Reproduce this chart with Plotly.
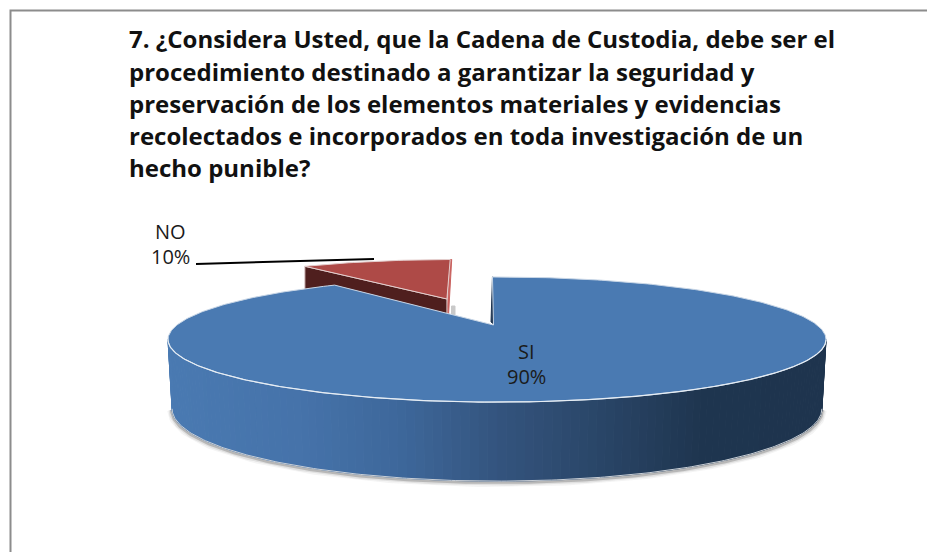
import numpy as np
import plotly.graph_objects as go

# Data
labels = ["SI", "NO"]
values = [90, 10]

title_lines = [
    "7. ¿Considera Usted, que la Cadena de Custodia, debe ser el",
    "procedimiento destinado a garantizar la seguridad y",
    "preservación de los elementos materiales y evidencias",
    "recolectados e incorporados en toda investigación de un",
    "hecho punible?",
]

# Perspective pie, in page pixels
CX, CY = 497, 325
RX, RY = 320, 59.2
K = 0.2325
ROT = -1
BASE_CY, BASE_RX, BASE_RY = 392, 316, 68.4

BLUE = "#4A7AB2"
RED = "#AE4A47"
RED_DARK = "#4F1F1E"
NAVY = "#1E3450"


def project(u, v, cx=CX, cy=CY, rx=RX, ry=RY):
    s = 1 / (1 + K * v)
    return cx + rx * u * s, cy - ry * v * s


def rad(a):
    return np.radians(np.asarray(a, dtype=float))


def poly(fig, x, y, color, line=None, width=1):
    fig.add_trace(go.Scatter(
        x=np.append(x, x[0]), y=np.append(y, y[0]), mode="lines", fill="toself",
        fillcolor=color, line=dict(color=line or color, width=width),
        hoverinfo="skip", showlegend=False
    ))


# slice angles come from the values
total = sum(values)
si_sweep = 360 * values[0] / total
no_sweep = 360 * values[1] / total
si_start = ROT
si_end = ROT + si_sweep
no_start = si_end
no_end = no_start + no_sweep

fig = go.Figure()

# frame
fig.add_trace(go.Scatter(
    x=[10.5, 10.5, 927], y=[552, 10.5, 10.5], mode="lines",
    line=dict(color="#8C8C8C", width=2), hoverinfo="skip", showlegend=False
))

# front arc angles, extreme to extreme
edge = 180 - np.degrees(np.arccos(K))
front = rad(np.linspace(edge, 360 - edge, 241))
fu, fv = np.sin(front), np.cos(front)
tx, ty = project(fu, fv)
bx, by = project(fu, fv, cy=BASE_CY, rx=BASE_RX, ry=BASE_RY)

# soft shadow under the wall
for w, alpha, dy in [(10, 0.06, 1), (7, 0.10, 1), (4, 0.25, 1)]:
    fig.add_trace(go.Scatter(
        x=bx, y=by + dy, mode="lines", line=dict(color=f"rgba(60,60,60,{alpha})", width=w),
        hoverinfo="skip", showlegend=False
    ))

# NO slice, pulled out towards the back
NO_CX = 490
apex_u, apex_v = -0.15, 0.49
arc = rad(np.linspace(no_start, no_end, 30))
nu, nv = apex_u + np.sin(arc), apex_v + np.cos(arc)
nx, ny = project(nu, nv, cx=NO_CX)
ax, ay = project(apex_u, apex_v, cx=NO_CX)

# thin lit side and its shadow
poly(fig, np.array([451.5, 455, 455, 451.5]), np.array([306, 306, 316, 316]), "#C9C9C9")
poly(fig, np.array([nx[-1], nx[-1] + 1.5, ax + 1.5, ax]), np.array([ny[-1], ny[-1], ay + 18, ay + 18]), "#C9615E")
# dark cut face
poly(fig, np.array([nx[0], ax, ax, nx[0]]), np.array([ny[0], ay, ay + 30, ny[0] + 30]), RED_DARK, line="#D8C4C4")
# top face
poly(fig, np.append(nx, ax), np.append(ny, ay), RED, line="#E4CFCE")

# SI wall, as narrow strips for the horizontal shading
stops_x = [170, 300, 400, 500, 600, 700, 826]
stops_r = [74, 70, 62, 52, 42, 31, 30]
stops_g = [122, 115, 104, 84, 70, 54, 52]
stops_b = [178, 170, 155, 126, 104, 80, 78]
step = 2
for i in range(0, len(front) - step, step):
    xm = (tx[i] + tx[i + step]) / 2
    c = "rgb(%d,%d,%d)" % (
        np.interp(xm, stops_x, stops_r), np.interp(xm, stops_x, stops_g), np.interp(xm, stops_x, stops_b)
    )
    poly(fig, np.array([tx[i], tx[i + step], bx[i + step], bx[i]]),
         np.array([ty[i], ty[i + step], by[i + step], by[i]]), c)

# dark inner sliver at the 12 o'clock cut
SI_APEX = (493.5, 325)
sx0, sy0 = project(np.sin(rad(si_start)), np.cos(rad(si_start)))
poly(fig, np.array([sx0, sx0 + 0.5, SI_APEX[0] + 1.5, SI_APEX[0] - 2.5]),
     np.array([sy0, sy0, SI_APEX[1], SI_APEX[1] - 3]), NAVY)

# SI top face
sweep = rad(np.linspace(si_start, si_end, 361))
sx, sy = project(np.sin(sweep), np.cos(sweep))
poly(fig, np.append(sx, SI_APEX[0]), np.append(sy, SI_APEX[1]), BLUE, line="#C8D6E6")

# brighter rim along the front of the top face, and bottom rim highlight
fig.add_trace(go.Scatter(
    x=tx, y=ty, mode="lines", line=dict(color="#E6EDF4", width=1.2),
    hoverinfo="skip", showlegend=False
))
fig.add_trace(go.Scatter(
    x=bx, y=by, mode="lines", line=dict(color="#C9CFD6", width=1),
    hoverinfo="skip", showlegend=False
))

# NO leader line
fig.add_trace(go.Scatter(
    x=[196, 374], y=[264, 259], mode="lines", line=dict(color="black", width=2),
    hoverinfo="skip", showlegend=False
))

annotations = []
title_y = [38, 71, 103, 135, 167]
for line, y in zip(title_lines, title_y):
    annotations.append(dict(
        x=127, y=y, text=f"<b>{line}</b>", xanchor="left", yanchor="middle", showarrow=False,
        xref="x", yref="y", font=dict(family="Open Sans", size=24, color="#111111")
    ))

label_pos = [(526, 351, 526, 376), (170, 231, 170, 256)]
for name, val, (x1, y1, x2, y2) in zip(labels, values, label_pos):
    annotations.append(dict(x=x1, y=y1, text=name, showarrow=False, xref="x", yref="y",
                            font=dict(family="Open Sans", size=20, color="#1A1A1A")))
    annotations.append(dict(x=x2, y=y2, text=f"{val}%", showarrow=False, xref="x", yref="y",
                            font=dict(family="Open Sans", size=20, color="#1A1A1A")))

fig.update_layout(
    width=927, height=552,
    margin=dict(l=0, r=0, t=0, b=0),
    paper_bgcolor="white", plot_bgcolor="white",
    xaxis=dict(range=[0, 927], visible=False, fixedrange=True),
    yaxis=dict(range=[552, 0], visible=False, fixedrange=True),
    annotations=annotations,
    showlegend=False
)

fig.write_html(
    "out.html", config=dict(displayModeBar=False),
    post_script="document.body.style.margin='0';document.body.style.overflow='hidden';"
)
